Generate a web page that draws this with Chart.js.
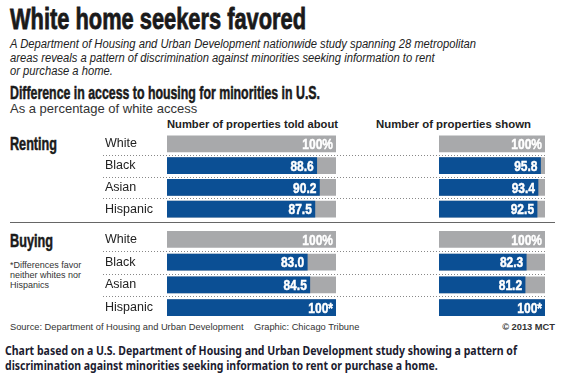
<!DOCTYPE html>
<html>
<head>
<meta charset="utf-8">
<script src="https://cdn.jsdelivr.net/npm/chart.js@4.4.1/dist/chart.umd.min.js"></script>
<style>
  body { margin: 0; background: #fff; width: 565px; height: 380px; position: relative; overflow: hidden; font-family: "Liberation Sans", Arial, sans-serif; color: #222; }
  .abs { position: absolute; white-space: nowrap; transform-origin: left top; }
  .cond { font-weight: bold; color: #1a1a1a; -webkit-text-stroke: 0.5px #1a1a1a; }
  canvas { position: absolute; }
</style>
</head>
<body>
<div class="abs cond" data-w="296" style="left:10px; top:2px; font-size:30px; -webkit-text-stroke:0.8px #1a1a1a;">White home seekers favored</div>
<div class="abs" data-w="466" style="left:10px; top:38px; font-size:12.5px; font-style:italic; line-height:13.5px; color:#222;">
  A Department of Housing and Urban Development nationwide study spanning 28 metropolitan<br>
  areas reveals a pattern of discrimination against minorities seeking information to rent<br>
  or purchase a home.
</div>
<div class="abs cond" data-w="310" style="left:10px; top:83px; font-size:17.5px;">Difference in access to housing for minorities in U.S.</div>
<div class="abs" style="left:10px; top:101px; font-size:13px; color:#333;">As a percentage of white access</div>

<div class="abs" data-w="171" style="left:167px; top:118px; font-size:11.5px; font-weight:bold;">Number of properties told about</div>
<div class="abs" data-w="155" style="left:376px; top:118px; font-size:11.5px; font-weight:bold;">Number of properties shown</div>

<div class="abs cond" data-w="47" style="left:10px; top:134px; font-size:17.5px;">Renting</div>
<div class="abs cond" data-w="43" style="left:10px; top:231px; font-size:17.5px;">Buying</div>
<div class="abs" style="left:10px; top:260px; font-size:9px; line-height:10px; color:#333;">*Differences favor<br>neither whites nor<br>Hispanics</div>

<div class="abs" style="left:10px; top:221.5px; width:545px; height:1.8px; background:#666;"></div>

<div class="abs" style="left:10px; top:322px; font-size:9.3px; color:#333;">Source: Department of Housing and Urban Development &nbsp;&nbsp; Graphic: Chicago Tribune</div>
<div class="abs" style="right:10px; top:322px; font-size:9.3px; font-weight:bold; color:#333;">© 2013 MCT</div>

<div class="abs" data-w="512" style="left:5px; top:343px; font-family:'Noto Sans', sans-serif; font-size:12.5px; font-weight:bold; line-height:15px; color:#1c1c30;">
  Chart based on a U.S. Department of Housing and Urban Development study showing a pattern of<br>
  discrimination against minorities seeking information to rent or purchase a home.
</div>

<canvas id="rentLeft" width="240" height="87" style="left:100px; top:133px;"></canvas>
<canvas id="rentRight" width="210" height="87" style="left:340px; top:133px;"></canvas>
<canvas id="buyLeft" width="240" height="91" style="left:100px; top:228px;"></canvas>
<canvas id="buyRight" width="210" height="91" style="left:340px; top:228px;"></canvas>

<script>
const groups = ["White", "Black", "Asian", "Hispanic"];
const rentToldAbout = [100, 88.6, 90.2, 87.5];
const rentShown = [100, 95.8, 93.4, 92.5];
const buyToldAbout = [100, 83.0, 84.5, 100];
const buyShown = [100, 82.3, 81.2, 100];
// groups where the difference favors neither side (marked with *)
const buyFootnoted = ["Hispanic"];

const BLUE = "#0b4f94";
const GREY = "#a8a9ab";

// squeeze headline text to the condensed widths of the original
document.querySelectorAll("[data-w]").forEach((el) => {
  const w = el.getBoundingClientRect().width;
  el.style.transform = `scaleX(${+el.dataset.w / w})`;
});

// dotted lines between rows
const separators = {
  id: "separators",
  beforeDatasetsDraw(chart, args, opts) {
    const ctx = chart.ctx;
    const y = chart.scales.y;
    ctx.save();
    ctx.strokeStyle = "#888";
    ctx.lineWidth = 1;
    ctx.setLineDash([1, 2]);
    for (let i = 0; i < groups.length - 1; i++) {
      const py = Math.round((y.getPixelForValue(i) + y.getPixelForValue(i + 1)) / 2) + 0.5;
      ctx.beginPath();
      ctx.moveTo(opts.from, py);
      ctx.lineTo(chart.width - opts.trimRight, py);
      ctx.stroke();
    }
    ctx.restore();
  },
};

// white value labels at the end of each bar
const valueLabels = {
  id: "valueLabels",
  afterDatasetsDraw(chart, args, opts) {
    const ctx = chart.ctx;
    const values = opts.values;
    const blueMeta = chart.getDatasetMeta(0);
    const greyMeta = chart.getDatasetMeta(1);
    values.forEach((v, i) => {
      let text, bar;
      if (i === 0) {
        text = v + "%";
        bar = greyMeta.data[i];
      } else {
        text = opts.footnoted.includes(groups[i]) ? v + "*" : v.toFixed(1);
        bar = blueMeta.data[i];
      }
      ctx.save();
      ctx.translate(bar.x - 3, bar.y + 1);
      ctx.scale(0.8, 1);
      ctx.fillStyle = "#fff";
      ctx.strokeStyle = "#fff";
      ctx.lineWidth = 0.5;
      ctx.font = 'bold 15px "Liberation Sans", Arial, sans-serif';
      ctx.textAlign = "right";
      ctx.textBaseline = "middle";
      ctx.fillText(text, 0, 0);
      ctx.strokeText(text, 0, 0);
      ctx.restore();
    });
  },
};

function makePanel(id, values, showLabels, padding, footnoted) {
  const ctx = document.getElementById(id).getContext("2d");
  return new Chart(ctx, {
    type: "bar",
    data: {
      labels: groups,
      datasets: [
        {
          data: values.map((v, i) => (i === 0 ? null : v)),
          backgroundColor: BLUE,
          barThickness: 16,
          grouped: false,
        },
        {
          data: groups.map(() => 100),
          backgroundColor: GREY,
          barThickness: 16,
          grouped: false,
        },
      ],
    },
    options: {
      indexAxis: "y",
      responsive: false,
      animation: false,
      devicePixelRatio: 1,
      layout: { padding: padding },
      plugins: {
        legend: { display: false },
        tooltip: { enabled: false },
        separators: { from: showLabels ? 3 : 0, trimRight: showLabels ? 0 : 3 },
        valueLabels: { values: values, footnoted: footnoted || [] },
      },
      scales: {
        x: { display: false, min: 0, max: 100 },
        y: {
          display: showLabels,
          grid: { display: false },
          border: { display: false },
          ticks: {
            crossAlign: "far",
            color: "#222",
            font: { family: '"Liberation Sans", Arial, sans-serif', size: 12.5 },
          },
          afterFit: (scale) => {
            scale.width = 62;
            scale.paddingTop = 0;
            scale.paddingBottom = 0;
          },
        },
      },
    },
    plugins: [separators, valueLabels],
  });
}

makePanel("rentLeft", rentToldAbout, true, { left: 5, right: 4, top: 0, bottom: 0 });
makePanel("rentRight", rentShown, false, { left: 37, right: 5, top: 0, bottom: 0 });
makePanel("buyLeft", buyToldAbout, true, { left: 5, right: 4, top: 0, bottom: 0 }, buyFootnoted);
makePanel("buyRight", buyShown, false, { left: 37, right: 5, top: 0, bottom: 0 }, buyFootnoted);
</script>
</body>
</html>
